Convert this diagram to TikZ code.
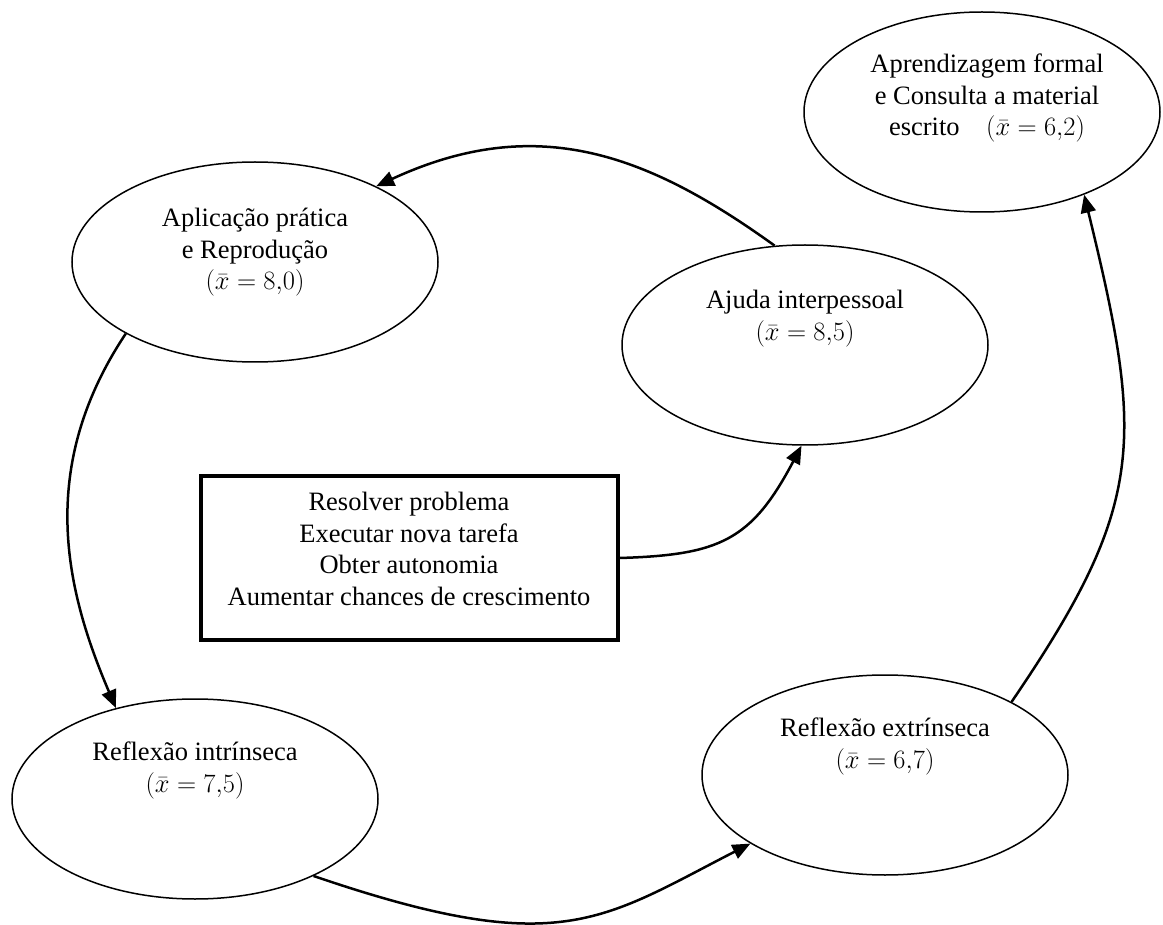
\RequirePackage{fix-cm}
\documentclass[tikz,border=0pt]{standalone}
\usepackage{fontspec}
\setmainfont{Liberation Serif}
\usetikzlibrary{arrows.meta,shapes.geometric}

\begin{document}
\begin{tikzpicture}[x=1pt,y=-1pt,
    estado/.style={draw,ellipse,line width=1.5pt,minimum width=366pt,minimum height=200pt,inner sep=0pt},
    rotulo/.style={align=center,anchor=north,inner sep=0pt,font=\fontsize{26.5}{31.5}\selectfont},
    caixa/.style={draw,line width=4pt,minimum width=417pt,minimum height=164pt,inner sep=0pt},
    seta/.style={-{Triangle[length=18pt,width=15pt]},line width=2.5pt}]
    \useasboundingbox (0,0) rectangle (1163,925);

    \node[estado,minimum width=356pt] (formal) at (982,112) {};
    \node[estado] (aplicacao) at (255,262) {};
    \node[estado] (ajuda) at (805,345) {};
    \node[estado] (intrinseca) at (195,799) {};
    \node[estado] (extrinseca) at (885,775) {};

    \node[rotulo] (formal-txt) at ([xshift=5pt,yshift=58pt]formal.center) {Aprendizagem formal\\e Consulta a material\\escrito\quad$(\bar{x} = 6{,}2)$};
    \node[rotulo] (aplicacao-txt) at ([yshift=54pt]aplicacao.center) {Aplicação prática\\e Reprodução\\$(\bar{x} = 8{,}0)$};
    \node[rotulo] (ajuda-txt) at ([yshift=55pt]ajuda.center) {Ajuda interpessoal\\$(\bar{x} = 8{,}5)$};
    \node[rotulo] (intrinseca-txt) at ([yshift=57pt]intrinseca.center) {Reflexão intrínseca\\$(\bar{x} = 7{,}5)$};
    \node[rotulo] (extrinseca-txt) at ([yshift=57pt]extrinseca.center) {Reflexão extrínseca\\$(\bar{x} = 6{,}7)$};

    \node[caixa] (objetivos) at (409,558) {};
    \node[rotulo] (objetivos-txt) at ([yshift=66pt]objetivos.center) {Resolver problema\\Executar nova tarefa\\Obter autonomia\\Aumentar chances de crescimento};

    \draw[seta] (ajuda.107) .. controls +(-125,-90) and +(162,-75) .. (aplicacao.32);
    \draw[seta] (aplicacao.209) .. controls +(-90,135) and +(-50,-117) .. (intrinseca.131);
    \draw[seta] (intrinseca.327) .. controls +(246,84) and +(-150,77) .. (extrinseca.207);
    \draw[seta] (extrinseca.30) .. controls +(135,-198) and +(60,246) .. (formal.321);
    \draw[seta] (objetivos.east) .. controls +(100,-3) and +(-50,95) .. (ajuda.268);
\end{tikzpicture}
\end{document}
